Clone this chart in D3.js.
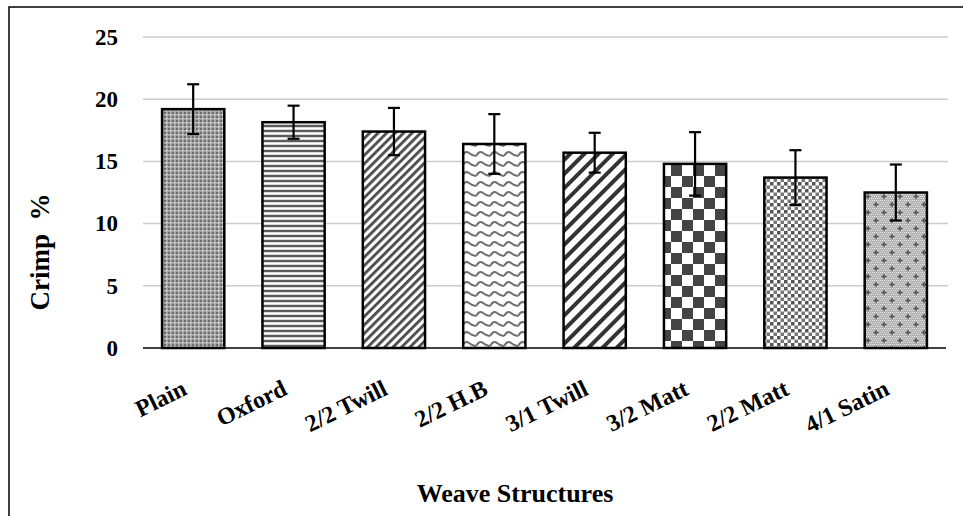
<!DOCTYPE html>
<html><head><meta charset="utf-8">
<script src="https://cdn.jsdelivr.net/npm/d3@7"></script>
<style>body{margin:0;background:#fff}svg{display:block}text{font-family:"Liberation Serif","Times New Roman",serif;font-weight:bold;fill:#000}</style>
</head><body>
<script>
const categories = ["Plain","Oxford","2/2 Twill","2/2 H.B","3/1 Twill","3/2 Matt","2/2 Matt","4/1 Satin"];
const values = [19.2, 18.15, 17.4, 16.4, 15.7, 14.8, 13.7, 12.5];
const errors = [2.0, 1.33, 1.9, 2.4, 1.6, 2.55, 2.2, 2.25];
const yTicks = [0, 5, 10, 15, 20, 25];
const patternIds = ["pPlain","pOxford","pTwill22","pHB","pTwill31","pMatt32","pMatt22","pSatin"];

const W = 963, H = 516;
const svg = d3.select("body").append("svg").attr("width", W).attr("height", H);
const defs = svg.append("defs");

function pat(id, w, h) {
  return defs.append("pattern").attr("id", id).attr("patternUnits", "userSpaceOnUse").attr("width", w).attr("height", h);
}
// Plain: fine grey checker with white dots
let p = pat("pPlain", 4, 4);
p.append("rect").attr("width", 4).attr("height", 4).attr("fill", "#a4a4a4");
p.append("rect").attr("x", 0).attr("y", 0).attr("width", 2).attr("height", 2).attr("fill", "#6e6e6e");
p.append("rect").attr("x", 2).attr("y", 2).attr("width", 1.2).attr("height", 1.2).attr("fill", "#ffffff");
// Oxford: horizontal stripes
p = pat("pOxford", 5, 5);
p.append("rect").attr("width", 5).attr("height", 5).attr("fill", "#d8d8d8");
p.append("rect").attr("y", 0).attr("width", 5).attr("height", 2).attr("fill", "#5a5a5a");
p.append("rect").attr("y", 3).attr("width", 5).attr("height", 1).attr("fill", "#ffffff");
// 2/2 Twill: dense diagonal
p = pat("pTwill22", 6, 6).attr("patternTransform", "rotate(45)");
p.append("rect").attr("width", 6).attr("height", 6).attr("fill", "#ffffff");
p.append("rect").attr("width", 2.8).attr("height", 6).attr("fill", "#4a4a4a");
// 2/2 H.B: wavy lines
p = pat("pHB", 14, 10);
p.append("rect").attr("width", 14).attr("height", 10).attr("fill", "#ffffff");
p.append("path").attr("d", "M0,6 Q3.5,0 7,3 T14,6").attr("fill", "none").attr("stroke", "#707070").attr("stroke-width", 2);
// 3/1 Twill: wide diagonal
p = pat("pTwill31", 10, 10).attr("patternTransform", "rotate(45)");
p.append("rect").attr("width", 10).attr("height", 10).attr("fill", "#ffffff");
p.append("rect").attr("width", 4).attr("height", 10).attr("fill", "#333333");
// 3/2 Matt: large checkerboard
p = pat("pMatt32", 22, 22);
p.append("rect").attr("width", 22).attr("height", 22).attr("fill", "#ffffff");
p.append("rect").attr("x", 0).attr("y", 0).attr("width", 11).attr("height", 11).attr("fill", "#444444");
p.append("rect").attr("x", 11).attr("y", 11).attr("width", 11).attr("height", 11).attr("fill", "#444444");
// 2/2 Matt: small checkerboard
p = pat("pMatt22", 7, 7);
p.append("rect").attr("width", 7).attr("height", 7).attr("fill", "#ffffff");
p.append("rect").attr("x", 0).attr("y", 0).attr("width", 3.5).attr("height", 3.5).attr("fill", "#555555");
p.append("rect").attr("x", 3.5).attr("y", 3.5).attr("width", 3.5).attr("height", 3.5).attr("fill", "#777777");
// 4/1 Satin: fine grey dots with pluses
p = pat("pSatin", 16, 16);
p.append("rect").attr("width", 16).attr("height", 16).attr("fill", "#b0b0b0");
for (let i = 0; i < 16; i += 2) for (let j = 0; j < 16; j += 2)
  p.append("rect").attr("x", i + ((j / 2) % 2)).attr("y", j).attr("width", 1).attr("height", 1).attr("fill", "#e8e8e8");
p.append("path").attr("d", "M4,2v5M1.5,4.5h5M12,10v5M9.5,12.5h5").attr("stroke", "#555").attr("stroke-width", 1.5);

// Outer border
svg.append("rect").attr("x", 9).attr("y", 7).attr("width", W + 10).attr("height", H + 10)
  .attr("fill", "none").attr("stroke", "#000").attr("stroke-width", 1.5);

const x0 = 143, x1 = 946, yTop = 37, yBot = 348;
const x = d3.scaleBand().domain(categories).range([x0, x1]).paddingInner(0.38).paddingOuter(0.19);
const y = d3.scaleLinear().domain([0, 25]).range([yBot, yTop]);

// Gridlines
svg.append("g").selectAll("line").data(yTicks.filter(d => d > 0)).join("line")
  .attr("x1", x0).attr("x2", 948).attr("y1", d => y(d)).attr("y2", d => y(d))
  .attr("stroke", "#cccccc").attr("stroke-width", 1.5);

// Y axis labels
const yAxis = d3.axisLeft(y).tickValues(yTicks).tickSize(0).tickPadding(25);
const gy = svg.append("g").attr("transform", `translate(${x0},0)`).call(yAxis);
gy.select(".domain").remove();
gy.selectAll("text").style("font-size", "23px").style("font-family", '"Liberation Serif",serif').style("font-weight", "bold").attr("fill", "#000");

// Bars
svg.append("g").selectAll("rect").data(categories).join("rect")
  .attr("x", d => x(d)).attr("width", x.bandwidth())
  .attr("y", (d, i) => y(values[i])).attr("height", (d, i) => yBot - y(values[i]))
  .attr("fill", (d, i) => `url(#${patternIds[i]})`)
  .attr("stroke", "#000").attr("stroke-width", 2.5);

// Baseline
svg.append("line").attr("x1", x0).attr("x2", x1).attr("y1", yBot).attr("y2", yBot)
  .attr("stroke", "#000").attr("stroke-width", 1.5);

// Error bars
const eg = svg.append("g").attr("stroke", "#000").attr("stroke-width", 2.2);
categories.forEach((c, i) => {
  const cx = x(c) + x.bandwidth() / 2;
  const hi = y(values[i] + errors[i]), lo = y(values[i] - errors[i]);
  eg.append("line").attr("x1", cx).attr("x2", cx).attr("y1", hi).attr("y2", lo);
  eg.append("line").attr("x1", cx - 6).attr("x2", cx + 6).attr("y1", hi).attr("y2", hi);
  eg.append("line").attr("x1", cx - 6).attr("x2", cx + 6).attr("y1", lo).attr("y2", lo);
});

// X labels
const xAxis = d3.axisBottom(x).tickSize(0).tickPadding(0);
const gx = svg.append("g").attr("transform", `translate(0,${yBot})`).call(xAxis);
gx.select(".domain").remove();
gx.selectAll("text").style("font-size", "24px").style("font-family", '"Liberation Serif",serif').style("font-weight", "bold")
  .attr("fill", "#000").attr("text-anchor", "end").attr("dy", null).attr("y", 0)
  .attr("transform", "translate(-5,46) rotate(-26)");

// Axis titles
svg.append("text").attr("transform", "translate(49,252) rotate(-90)").attr("text-anchor", "middle")
  .attr("xml:space", "preserve").style("white-space", "pre")
  .style("font-size", "27px").text("Crimp  %");
svg.append("text").attr("x", 515).attr("y", 502).attr("text-anchor", "middle")
  .style("font-size", "26px").text("Weave Structures");
</script>
</body></html>
